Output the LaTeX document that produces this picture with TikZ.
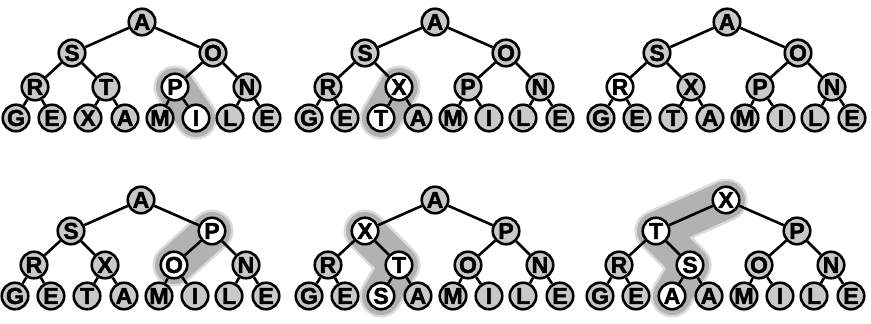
\documentclass[tikz,border=0pt]{standalone}
\usepackage{fontspec}
\setmainfont{Liberation Sans}
\newfontfamily\heavyfont[BoldFeatures={FakeBold=2}]{Liberation Sans}
\usetikzlibrary{calc}
\pgfdeclarelayer{halo}
\pgfdeclarelayer{edges}
\pgfsetlayers{halo,edges,main}
\tikzset{
  hn/.style={circle,draw=black,line width=2.6pt,fill=gray!42,minimum size=26.5pt,inner sep=0pt,
    font=\heavyfont\fontsize{23}{23}\selectfont\bfseries},
  g/.style={},
  w/.style={fill=white},
  tedge/.style={line width=2.6pt},
  halo/.style={line width=38pt,line cap=round,line join=round,draw=gray!60},
  haloout/.style={line width=43pt,line cap=round,line join=round,draw=gray!28}
}
\def\px{{142,72,213,35,106,175,247,16,52,88,125,160,196,230,267}}
\def\py{{22,53,53,87,87,87,87,118,118,118,118,118,118,118,118}}
\newcommand\mytree[4]{%
  \foreach \lab/\sty [count=\i] in {#4}{
    \pgfmathsetmacro\xx{#2+\px[\i-1]}
    \pgfmathsetmacro\yy{#3+\py[\i-1]}
    \node[hn,\sty] (#1\i) at (\xx,\yy) {\lab};
  }
  \begin{pgfonlayer}{edges}
  \foreach \i in {2,...,15}{
    \pgfmathtruncatemacro\p{\i/2}
    \draw[tedge] (#1\p) -- (#1\i);
  }
  \end{pgfonlayer}
}
\begin{document}
\begin{tikzpicture}[x=1pt,y=-1pt]
\useasboundingbox (0,0) rectangle (871,324);
% tree 1
\mytree{a}{0}{0}{A/g,S/g,O/g,R/g,T/g,P/w,N/g,G/g,E/g,X/g,A/g,M/g,I/w,L/g,E/g}
% tree 2
\mytree{b}{293}{0}{A/g,S/g,O/g,R/g,X/w,P/g,N/g,G/g,E/g,T/w,A/g,M/g,I/g,L/g,E/g}
% tree 3
\mytree{c}{585}{0}{A/g,S/g,O/g,R/w,X/g,P/g,N/g,G/g,E/g,T/g,A/g,M/g,I/g,L/g,E/g}
% tree 4
\mytree{d}{-1}{178}{A/g,S/g,P/w,R/g,X/g,O/w,N/g,G/g,E/g,T/g,A/g,M/g,I/g,L/g,E/g}
% tree 5
\mytree{e}{293}{178}{A/g,X/w,P/g,R/g,T/w,O/g,N/g,G/g,E/g,S/w,A/g,M/g,I/g,L/g,E/g}
% tree 6
\mytree{f}{584}{178}{X/w,T/w,P/g,R/g,S/w,O/g,N/g,G/g,E/g,A/w,A/g,M/g,I/g,L/g,E/g}
\begin{pgfonlayer}{halo}
  \draw[haloout] (a6.center) -- (a13.center);
  \draw[halo] (a6.center) -- (a13.center);
  \draw[haloout] (b5.center) -- (b10.center);
  \draw[halo] (b5.center) -- (b10.center);
  \draw[haloout] (d3.center) -- (d6.center);
  \draw[halo] (d3.center) -- (d6.center);
  \draw[haloout] (e2.center) -- (e5.center) -- (e10.center);
  \draw[halo] (e2.center) -- (e5.center) -- (e10.center);
  \draw[haloout] (f1.center) -- (f2.center) -- (f5.center) -- (f10.center);
  \draw[halo] (f1.center) -- (f2.center) -- (f5.center) -- (f10.center);
\end{pgfonlayer}
\end{tikzpicture}
\end{document}
